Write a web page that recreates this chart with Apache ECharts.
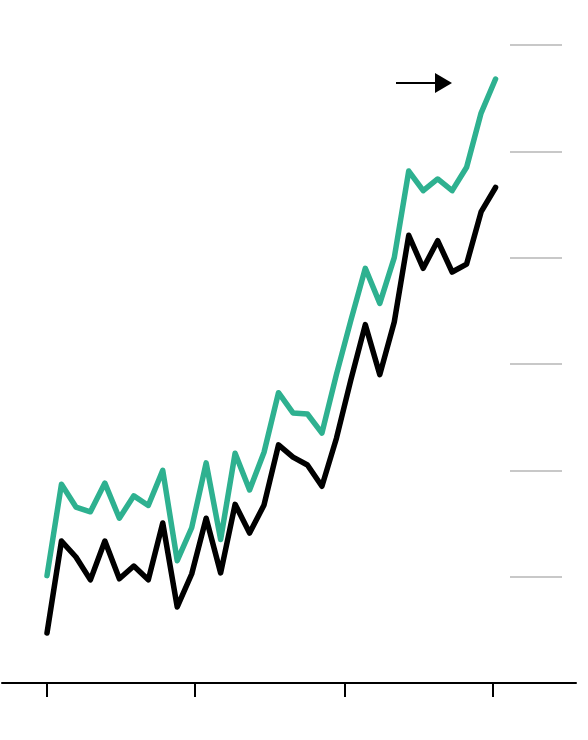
<!DOCTYPE html>
<html>
<head>
<meta charset="utf-8">
<script src="https://cdn.jsdelivr.net/npm/echarts@6/dist/echarts.min.js"></script>
<style>
html,body{margin:0;padding:0;background:#fff;}
#chart{width:588px;height:740px;}
</style>
</head>
<body>
<div id="chart"></div>
<script>
// Data (index 0..31 along x)
const xIndex = [0,1,2,3,4,5,6,7,8,9,10,11,12,13,14,15,16,17,18,19,20,21,22,23,24,25,26,27,28,29,30,31];
const greenValues = [1.01,1.87,1.655,1.61,1.88,1.55,1.76,1.67,2.00,1.15,1.46,2.07,1.35,2.16,1.815,2.17,2.73,2.54,2.53,2.35,2.90,3.41,3.90,3.57,4.00,4.815,4.63,4.74,4.63,4.85,5.36,5.68];
const blackValues = [0.47,1.335,1.185,0.97,1.335,0.98,1.10,0.97,1.505,0.715,1.025,1.55,1.035,1.68,1.41,1.675,2.24,2.125,2.05,1.85,2.30,2.85,3.37,2.90,3.395,4.21,3.90,4.16,3.865,3.94,4.43,4.66];
const xTickValues = [0, 10.23, 20.58, 30.79];
const gridValues = [1,2,3,4,5,6];

const chart = echarts.init(document.getElementById('chart'), null, {renderer:'canvas'});
const pair = (vals) => xIndex.map((x,i)=>[x, vals[i]]);

chart.setOption({
  animation:false,
  backgroundColor:'#fff',
  grid:[
    {left:2, width:574, top:45, bottom:57},
    {left:510, width:52, top:45, bottom:163}
  ],
  xAxis:[
    {gridIndex:0, type:'value', min:-3.11, max:36.56,
     axisLine:{show:true, onZero:false, lineStyle:{color:'#000', width:2}},
     axisTick:{show:true, customValues:xTickValues, length:14, lineStyle:{color:'#000', width:2}},
     axisLabel:{show:false}, splitLine:{show:false}},
    {gridIndex:1, type:'value', min:0, max:1, show:false}
  ],
  yAxis:[
    {gridIndex:0, type:'value', min:0, max:6, show:false},
    {gridIndex:1, type:'value', min:gridValues[0], max:gridValues[gridValues.length-1], interval:1,
     axisLine:{show:false}, axisTick:{show:false}, axisLabel:{show:false},
     splitLine:{show:true, lineStyle:{color:'#c8c8c8', width:2}}}
  ],
  series:[
    {type:'line', xAxisIndex:0, yAxisIndex:0, data:pair(blackValues), symbol:'none',
     lineStyle:{color:'#000', width:5.5, cap:'round', join:'round'}},
    {type:'line', xAxisIndex:0, yAxisIndex:0, data:pair(greenValues), symbol:'none',
     lineStyle:{color:'#2eb190', width:5.5, cap:'round', join:'round'}}
  ],
  graphic:[
    {type:'line', shape:{x1:396, y1:83, x2:437, y2:83}, style:{stroke:'#000', lineWidth:2}},
    {type:'polygon', shape:{points:[[435,73],[452,83],[435,93]]}, style:{fill:'#000'}}
  ]
});
</script>
</body>
</html>
